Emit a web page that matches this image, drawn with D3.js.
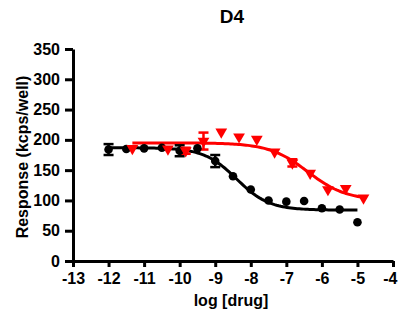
<!DOCTYPE html>
<html>
<head>
<meta charset="utf-8">
<script src="https://cdn.jsdelivr.net/npm/d3@7"></script>
<style>
  html, body { margin: 0; padding: 0; background: #fff; }
  svg { display: block; font-family: "Liberation Sans", Arial, sans-serif; font-weight: bold; }
</style>
</head>
<body>
<svg id="chart" width="398" height="320"></svg>
<script>
// Black series (circles): log concentration, mean response, SEM
const blackLogX = [-12, -11.5, -11, -10.5, -10, -9.5, -9, -8.5, -8, -7.5, -7, -6.5, -6, -5.5, -5];
const blackY    = [184, 185, 186, 187, 182, 186, 165, 140, 118, 100, 98, 99, 87, 85, 64];
const blackSem  = [9, 0, 0, 0, 9, 0, 10, 0, 0, 0, 0, 0, 0, 0, 0];

// Red series (down triangles)
const redLogX = [-11.33, -10.33, -9.83, -9.33, -8.83, -8.33, -7.83, -7.33, -6.83, -6.33, -5.83, -5.33, -4.83];
const redY    = [186, 185, 182, 198, 213, 205, 201, 180, 162, 145, 118, 120, 104];
const redSem  = [0, 0, 5, 14, 0, 0, 0, 0, 6, 0, 0, 0, 0];

// Fitted four-parameter logistic curves: [bottom, top, logIC50, hill, xStart, xEnd]
const blackFit = [84, 187, -8.4, 0.95, -12, -5];
const redFit   = [100, 195, -6.4, 0.8, -11.33, -4.83];

// Axis ticks and labels
const xTicks = [-13, -12, -11, -10, -9, -8, -7, -6, -5, -4];
const yTicks = [0, 50, 100, 150, 200, 250, 300, 350];
const titleText = "D4";
const xTitle = "log [drug]";
const yTitle = "Response (kcps/well)";

const svg = d3.select("#chart");
const x = d3.scaleLinear().domain([-13, -4]).range([73, 393]);
const y = d3.scaleLinear().domain([0, 350]).range([261, 49]);

function logistic(p, lx) {
  const [bottom, top, logIC50, hill] = p;
  return bottom + (top - bottom) / (1 + Math.pow(10, (lx - logIC50) * hill));
}
function curvePoints(p) {
  const n = 120, pts = [];
  for (let i = 0; i <= n; i++) {
    const lx = p[4] + (p[5] - p[4]) * i / n;
    pts.push([lx, logistic(p, lx)]);
  }
  return pts;
}
const line = d3.line().x(d => x(d[0])).y(d => y(d[1]));

// Curves
svg.append("path").datum(curvePoints(blackFit))
  .attr("d", line).attr("fill", "none").attr("stroke", "#000").attr("stroke-width", 3);
svg.append("path").datum(curvePoints(redFit))
  .attr("d", line).attr("fill", "none").attr("stroke", "#ff0000").attr("stroke-width", 3);

// Error bars
function errorBars(xs, ys, sems, color) {
  const g = svg.append("g").attr("stroke", color).attr("stroke-width", 2.5);
  xs.forEach((lx, i) => {
    if (!sems[i]) return;
    const cx = x(lx), y1 = y(ys[i] - sems[i]), y2 = y(ys[i] + sems[i]);
    g.append("line").attr("x1", cx).attr("x2", cx).attr("y1", y1).attr("y2", y2);
    g.append("line").attr("x1", cx - 5).attr("x2", cx + 5).attr("y1", y1).attr("y2", y1);
    g.append("line").attr("x1", cx - 5).attr("x2", cx + 5).attr("y1", y2).attr("y2", y2);
  });
}
errorBars(blackLogX, blackY, blackSem, "#000");
errorBars(redLogX, redY, redSem, "#ff0000");

// Markers
svg.append("g").selectAll("circle").data(blackLogX).join("circle")
  .attr("cx", d => x(d)).attr("cy", (d, i) => y(blackY[i])).attr("r", 4.3).attr("fill", "#000");
const tri = d3.symbol().type(d3.symbolTriangle).size(60);
svg.append("g").selectAll("path").data(redLogX).join("path")
  .attr("d", tri)
  .attr("transform", (d, i) => `translate(${x(d)},${y(redY[i])}) rotate(180)`)
  .attr("fill", "#ff0000");

// Axes (plain hyphen for negative numbers)
const fmt = d => String(d);
const xAxis = svg.append("g").attr("transform", "translate(0,261)")
  .call(d3.axisBottom(x).tickValues(xTicks).tickFormat(fmt).tickSize(6).tickSizeOuter(0).tickPadding(6));
const yAxis = svg.append("g").attr("transform", "translate(73,0)")
  .call(d3.axisLeft(y).tickValues(yTicks).tickFormat(fmt).tickSize(8).tickSizeOuter(0).tickPadding(5));
[xAxis, yAxis].forEach(a => {
  a.select(".domain").attr("stroke", "#000").attr("stroke-width", 3);
  a.selectAll(".tick line").attr("stroke", "#000").attr("stroke-width", 3);
  a.selectAll(".tick text").attr("fill", "#000").style("font-size", "16px")
    .style("font-family", "Liberation Sans, Arial, sans-serif").style("font-weight", "bold");
});
// keep the last x label inside the frame
xAxis.selectAll(".tick text").filter(d => d === xTicks[xTicks.length - 1])
  .attr("text-anchor", "end").attr("dx", "4");

// Titles
svg.append("text").attr("x", 232).attr("y", 23).attr("text-anchor", "middle")
  .style("font-size", "19px").text(titleText);
svg.append("text").attr("x", 231).attr("y", 306).attr("text-anchor", "middle")
  .style("font-size", "16px").text(xTitle);
svg.append("text").attr("transform", "translate(28,157) rotate(-90)").attr("text-anchor", "middle")
  .style("font-size", "16px").text(yTitle);
</script>
</body>
</html>
